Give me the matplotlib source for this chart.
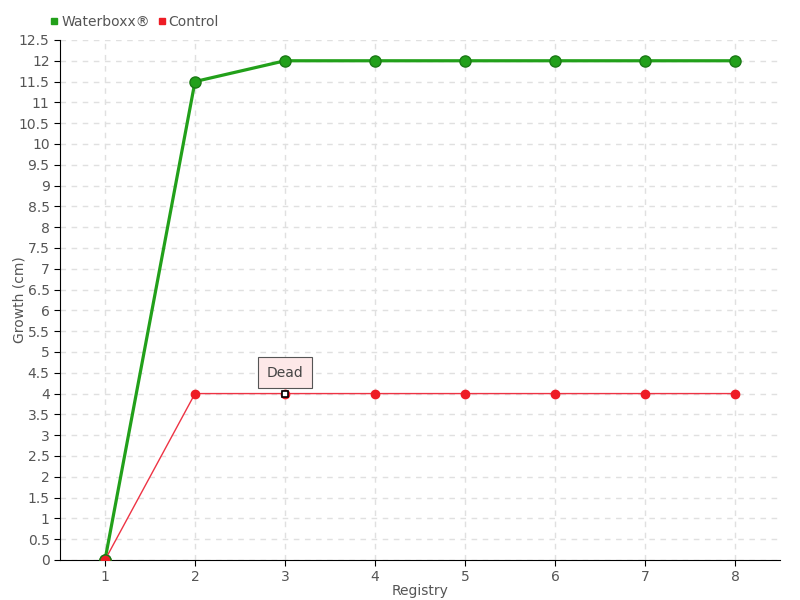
import matplotlib.pyplot as plt
from matplotlib.lines import Line2D

registry = [1, 2, 3, 4, 5, 6, 7, 8]
waterboxx = [0, 11.5, 12, 12, 12, 12, 12, 12]
control = [0, 4, 4, 4, 4, 4, 4, 4]
dead_point = 3

yticks = [i * 0.5 for i in range(26)]
ylabels = ['%g' % t for t in yticks]

green = '#22a01a'
red = '#ee1c25'
text_col = '#555555'

fig = plt.figure(figsize=(8, 6), dpi=100)
ax = fig.add_axes([0.075, 0.0667, 0.9, 0.8667])

ax.plot(registry, waterboxx, color=green, lw=2.3, marker='o', ms=8,
        mfc=green, mec='#1a7a14', mew=1, zorder=3)
ax.plot(registry, control, color='#ee3344', lw=1, marker='o', ms=6,
        mfc=red, mec=red, zorder=4)
ax.plot([registry[0]], [waterboxx[0]], 'o', ms=8, mfc=red,
        mec='#1a7a14', mew=1, zorder=5)
i = registry.index(dead_point)
ax.plot([dead_point], [control[i]], 's', ms=4, mfc='white', mec='black',
        mew=1.2, zorder=6)
ax.annotate('Dead', (dead_point, control[i]), xytext=(0, 15),
            textcoords='offset points', ha='center', va='center',
            fontsize=10, color='#444444',
            bbox=dict(boxstyle='square,pad=0.6', fc='#fde8e8', ec='#555555', lw=0.8),
            zorder=7)

ax.set_xlim(0.5, 8.5)
ax.set_ylim(0, 12.5)
ax.set_xticks(registry)
ax.set_yticks(yticks)
ax.set_yticklabels(ylabels)
ax.grid(True, ls=(0, (4, 4)), color='#e0e0e0', lw=1)
ax.set_axisbelow(True)
for s in ['top', 'right']:
    ax.spines[s].set_visible(False)
ax.tick_params(labelcolor=text_col, labelsize=10, length=4, color='black')
ax.set_xlabel('Registry', color=text_col, fontsize=10, labelpad=0)
ax.set_ylabel('Growth (cm)', color=text_col, fontsize=10)
ax.yaxis.set_label_coords(-0.047, 0.5)

handles = [Line2D([], [], ls='', marker='s', ms=5, color=green),
           Line2D([], [], ls='', marker='s', ms=5, color=red)]
fig.legend(handles, ['Waterboxx\u00ae', 'Control'], loc='center left',
           bbox_to_anchor=(0.055, 0.963), ncol=2, frameon=False,
           handlelength=0.5, handletextpad=0.25, columnspacing=0.6,
           fontsize=10, labelcolor=text_col, borderpad=0)

fig.savefig('out.png', dpi=100)
